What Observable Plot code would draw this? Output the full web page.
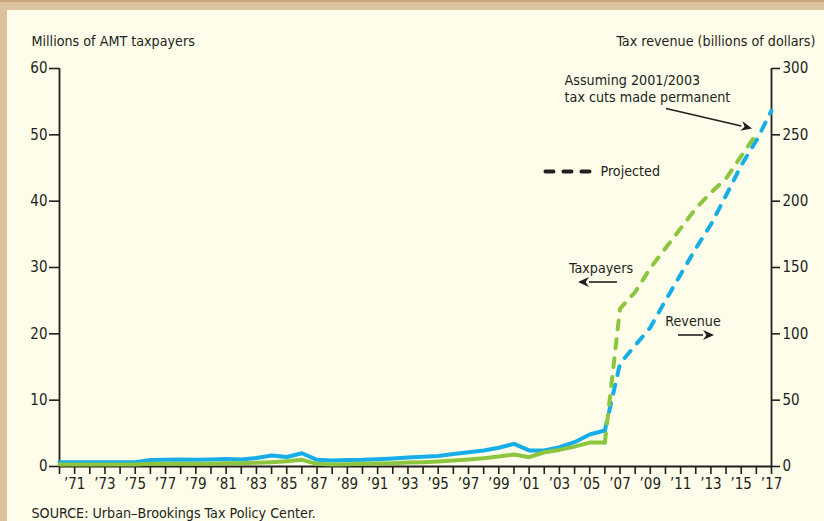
<!DOCTYPE html>
<html><head><meta charset="utf-8">
<script src="https://cdn.jsdelivr.net/npm/d3@7"></script>
<script src="https://cdn.jsdelivr.net/npm/@observablehq/plot@0.6"></script>
<style>
html,body{margin:0;padding:0;}
body{width:824px;height:521px;background:#dcc39d;position:relative;overflow:hidden;}
#topline{position:absolute;left:0;top:0;width:824px;height:2px;background:#c9a77c;}
#panel{position:absolute;left:7px;top:10px;width:817px;height:511px;background:#fefde9;}
#chart{position:absolute;left:0;top:0;}
</style></head><body>
<div id="topline"></div><div id="panel"></div><div id="chart"></div>
<script>
// ---- data ----
const actualYears = [1970,1971,1972,1973,1974,1975,1976,1977,1978,1979,1980,1981,1982,1983,1984,1985,1986,1987,1988,1989,1990,1991,1992,1993,1994,1995,1996,1997,1998,1999,2000,2001,2002,2003,2004,2005,2006];
const taxpayersActual = [0.3,0.3,0.3,0.3,0.3,0.3,0.4,0.4,0.4,0.4,0.4,0.5,0.5,0.55,0.65,0.8,1.0,0.4,0.3,0.35,0.4,0.45,0.5,0.6,0.65,0.75,0.9,1.05,1.25,1.5,1.8,1.4,2.15,2.5,3.0,3.6,3.6];
const revenueActual = [3.2,3.2,3.2,3.2,3.2,3.2,4.9,5.0,5.3,5.0,5.3,5.7,5.3,6.4,8.3,7.2,10.0,5.0,4.5,4.9,5.0,5.4,6.0,6.8,7.3,7.9,9.4,10.8,12.1,14.1,17.1,12.1,12.1,14.6,18.3,24.1,27.1];
const taxpayerProjYears = [2006,2007,2008,2009,2010,2011,2012,2013,2014,2015,2016];
const taxpayersProjected = [3.6,23.8,26.3,29.9,32.9,35.9,38.9,41.3,43.4,46.8,50.1];
const revenueProjYears = [2006,2007,2008,2009,2010,2011,2012,2013,2014,2015,2016,2017];
const revenueProjected = [27.1,77.6,91.2,104.8,125.1,144.7,164.3,182.4,204.3,226.9,245.7,268.3];
const tickYears = [1970,1971,1972,1973,1974,1975,1976,1977,1978,1979,1980,1981,1982,1983,1984,1985,1986,1987,1988,1989,1990,1991,1992,1993,1994,1995,1996,1997,1998,1999,2000,2001,2002,2003,2004,2005,2006,2007,2008,2009,2010,2011,2012,2013,2014,2015,2016,2017];
const leftTicks = [0,10,20,30,40,50,60];       // millions of taxpayers
const rightTickLabels = [0,50,100,150,200,250,300]; // billions of dollars

const GREEN = "#8cc63f", BLUE = "#17aee8", INK = "#231f20";
const FONT = '"Liberation Sans Narrow","Arial Narrow","DejaVu Sans Condensed",sans-serif';
const FS = 14.2;

const tp = taxpayersActual.map((v,i)=>({year: actualYears[i], value: v}));
const rv = revenueActual.map((v,i)=>({year: actualYears[i], value: v}));
const tpP = taxpayersProjected.map((v,i)=>({year: taxpayerProjYears[i], value: v}));
const rvP = revenueProjected.map((v,i)=>({year: revenueProjYears[i], value: v}));

// annotations in data coordinates (year, millions)
const labels = [
  {year: 2003.34, value: 58.2, text: "Assuming 2001/2003", anchor: "start"},
  {year: 2003.34, value: 55.6, text: "tax cuts made permanent", anchor: "start"},
  {year: 2005.71, value: 44.47, text: "Projected", anchor: "start"},
  {year: 2005.75, value: 29.85, text: "Taxpayers", anchor: "middle"},
  {year: 2011.82, value: 21.86, text: "Revenue", anchor: "middle"}
];
const arrows = [
  {x1: 2010.07, y1: 53.9, x2: 2015.75, y2: 50.88},
  {x1: 2006.83, y1: 27.74, x2: 2004.26, y2: 27.74},
  {x1: 2010.86, y1: 19.75, x2: 2013.24, y2: 19.75}
];
const legendDash = [{year: 2002.08, value: 44.47}, {year: 2004.99, value: 44.47}];

function arrowMark(list) {
  return (index, scales) => {
    const ns = "http://www.w3.org/2000/svg";
    const g = document.createElementNS(ns, "g");
    for (const a of list) {
      const x1 = scales.x(a.x1), y1 = scales.y(a.y1), x2 = scales.x(a.x2), y2 = scales.y(a.y2);
      const ang = Math.atan2(y2 - y1, x2 - x1);
      const L = 11, W = 5;
      const bx = x2 - L * Math.cos(ang), by = y2 - L * Math.sin(ang);
      const line = document.createElementNS(ns, "line");
      line.setAttribute("x1", x1); line.setAttribute("y1", y1);
      line.setAttribute("x2", bx); line.setAttribute("y2", by);
      line.setAttribute("stroke", INK); line.setAttribute("stroke-width", 1.6);
      g.appendChild(line);
      const px = -Math.sin(ang), py = Math.cos(ang);
      const poly = document.createElementNS(ns, "polygon");
      poly.setAttribute("points", `${x2},${y2} ${bx + px*W},${by + py*W} ${bx + 0.3*L*Math.cos(ang)},${by + 0.3*L*Math.sin(ang)} ${bx - px*W},${by - py*W}`);
      poly.setAttribute("fill", INK);
      g.appendChild(poly);
    }
    return g;
  };
}

const chart = Plot.plot({
  width: 824, height: 521,
  marginLeft: 59, marginRight: 53, marginTop: 68, marginBottom: 55,
  style: {background: "transparent", fontFamily: FONT, fontSize: FS + "px", color: INK},
  x: {domain: [1970, 2017], label: null},
  y: {domain: [0, 60], label: null},
  marks: [
    Plot.axisX({ticks: tickYears, tickSize: 8, tickPadding: 4, strokeWidth: 1.6, label: null, fontSize: 15,
      tickFormat: d => d % 2 === 1 ? "\u2019" + String(d).slice(2) : ""}),
    Plot.axisY({ticks: leftTicks, anchor: "left", tickSize: 10, tickPadding: 2, strokeWidth: 1.6, label: null, fontSize: 15}),
    Plot.axisY({ticks: leftTicks, anchor: "right", tickSize: 8, tickPadding: 3, strokeWidth: 1.6, label: null, fontSize: 15,
      tickFormat: d => String(rightTickLabels[leftTicks.indexOf(d)])}),
    Plot.ruleY([0], {stroke: INK, strokeWidth: 1.8}),
    Plot.ruleX([1970], {y1: 0, y2: 60, stroke: INK, strokeWidth: 1.8}),
    Plot.ruleX([2017], {y1: 0, y2: 60, stroke: INK, strokeWidth: 1.8}),
    Plot.line(rv, {x: "year", y: d => d.value / 5, stroke: BLUE, strokeWidth: 4, strokeLinejoin: "round", strokeLinecap: "round"}),
    Plot.line(rvP, {x: "year", y: d => d.value / 5, stroke: BLUE, strokeWidth: 4, strokeDasharray: "9,10", strokeLinecap: "round"}),
    Plot.line(tp, {x: "year", y: "value", stroke: GREEN, strokeWidth: 4, strokeLinejoin: "round", strokeLinecap: "round"}),
    Plot.line(tpP, {x: "year", y: "value", stroke: GREEN, strokeWidth: 4, strokeDasharray: "9,10", strokeLinecap: "round"}),
    Plot.line(legendDash, {x: "year", y: "value", stroke: INK, strokeWidth: 4, strokeDasharray: "8,10", strokeLinecap: "round"}),
    Plot.text(labels.filter(d => d.anchor === "start"), {x: "year", y: "value", text: "text", textAnchor: "start", lineAnchor: "middle", fill: INK, fontSize: FS}),
    Plot.text(labels.filter(d => d.anchor === "middle"), {x: "year", y: "value", text: "text", textAnchor: "middle", lineAnchor: "middle", fill: INK, fontSize: FS}),
    arrowMark(arrows),
    Plot.text(["Millions of AMT taxpayers"], {frameAnchor: "top-left", dx: -28, dy: -27, textAnchor: "start", lineAnchor: "middle", fill: INK, fontSize: FS}),
    Plot.text(["Tax revenue (billions of dollars)"], {frameAnchor: "top-right", dx: 44, dy: -27, textAnchor: "end", lineAnchor: "middle", fill: INK, fontSize: FS}),
    Plot.text(["SOURCE: Urban\u2013Brookings Tax Policy Center."], {frameAnchor: "bottom-left", dx: -28, dy: 47, textAnchor: "start", lineAnchor: "middle", fill: INK, fontSize: FS})
  ]
});
document.getElementById("chart").appendChild(chart);
</script>
</body></html>
